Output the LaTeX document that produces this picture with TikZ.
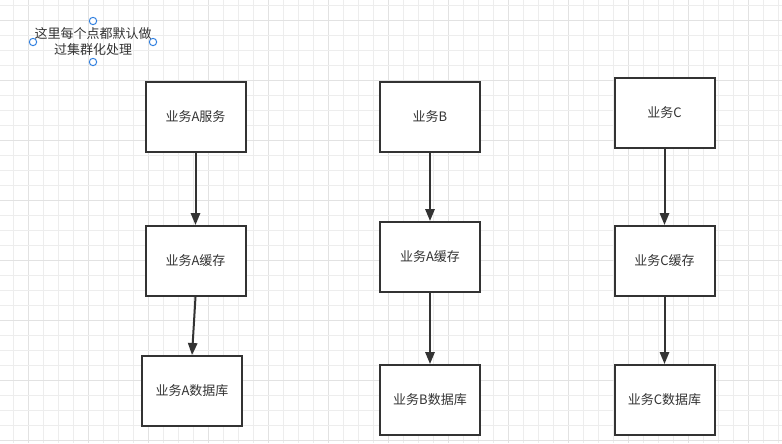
\documentclass[tikz,border=0pt]{standalone}
\usepackage{fontspec}
\newfontfamily\cjk{Noto Sans CJK SC}
\usetikzlibrary{arrows.meta}
\definecolor{gridc}{HTML}{EDEDED}
\definecolor{gridd}{HTML}{E2E2E2}
\definecolor{ink}{HTML}{333333}
\definecolor{handle}{HTML}{2F7FE0}
\tikzset{
  box/.style={draw=ink, line width=1.5pt, fill=white, minimum width=75pt, minimum height=52.5pt, inner sep=0pt, font=\cjk\fontsize{9.75}{12}\selectfont, text=ink},
  flow/.style={draw=ink, line width=1.5pt, -{Triangle[length=9pt,width=7pt]}},
  handlec/.style={circle, draw=handle, line width=0.75pt, fill=white, minimum size=5.5pt, inner sep=0pt},
  note/.style={font=\cjk\fontsize{9.75}{12}\selectfont, text=ink, align=center, inner sep=0pt}
}
\begin{document}
\begin{tikzpicture}[x=0.75pt,y=-0.75pt]
\useasboundingbox (0,0) rectangle (782,443);
\fill[white] (0,0) rectangle (782,443);
\foreach \i in {0,...,51} {
  \pgfmathtruncatemacro{\m}{mod(\i,4)}
  \ifnum\m=1 \draw[gridd, line width=0.75pt] ({13.3+15*\i},0) -- ({13.3+15*\i},443);
  \else \draw[gridc, line width=0.75pt] ({13.3+15*\i},0) -- ({13.3+15*\i},443); \fi
}
\foreach \j in {0,...,29} {
  \pgfmathtruncatemacro{\m}{mod(\j,4)}
  \ifnum\m=1 \draw[gridd, line width=0.75pt] (0,{5.5+15*\j}) -- (782,{5.5+15*\j});
  \else \draw[gridc, line width=0.75pt] (0,{5.5+15*\j}) -- (782,{5.5+15*\j}); \fi
}
% note
\node[note] (note) at (93,42) {这里每个点都默认做\\过集群化处理};
\node[handlec] (h1) at (93,21) {};
\node[handlec] (h2) at (33,42) {};
\node[handlec] (h3) at (153,42) {};
\node[handlec] (h4) at (93,62) {};
% boxes
\node[box] (A1) at (195.5,117) {业务A服务};
\node[box] (A2) at (195.5,261) {业务A缓存};
\node[box] (A3) at (192,391) {业务A数据库};
\node[box] (B1) at (430,117) {业务B};
\node[box] (B2) at (430,257) {业务A缓存};
\node[box] (B3) at (430,400) {业务B数据库};
\node[box] (C1) at (664.5,113) {业务C};
\node[box] (C2) at (664.5,261) {业务C缓存};
\node[box] (C3) at (664.5,400) {业务C数据库};
% connectors
\draw[flow] (A1.south) -- (A2.north);
\draw[flow] (A2.south) -- (A3.north);
\draw[flow] (B1.south) -- (B2.north);
\draw[flow] (B2.south) -- (B3.north);
\draw[flow] (C1.south) -- (C2.north);
\draw[flow] (C2.south) -- (C3.north);
\end{tikzpicture}
\end{document}
